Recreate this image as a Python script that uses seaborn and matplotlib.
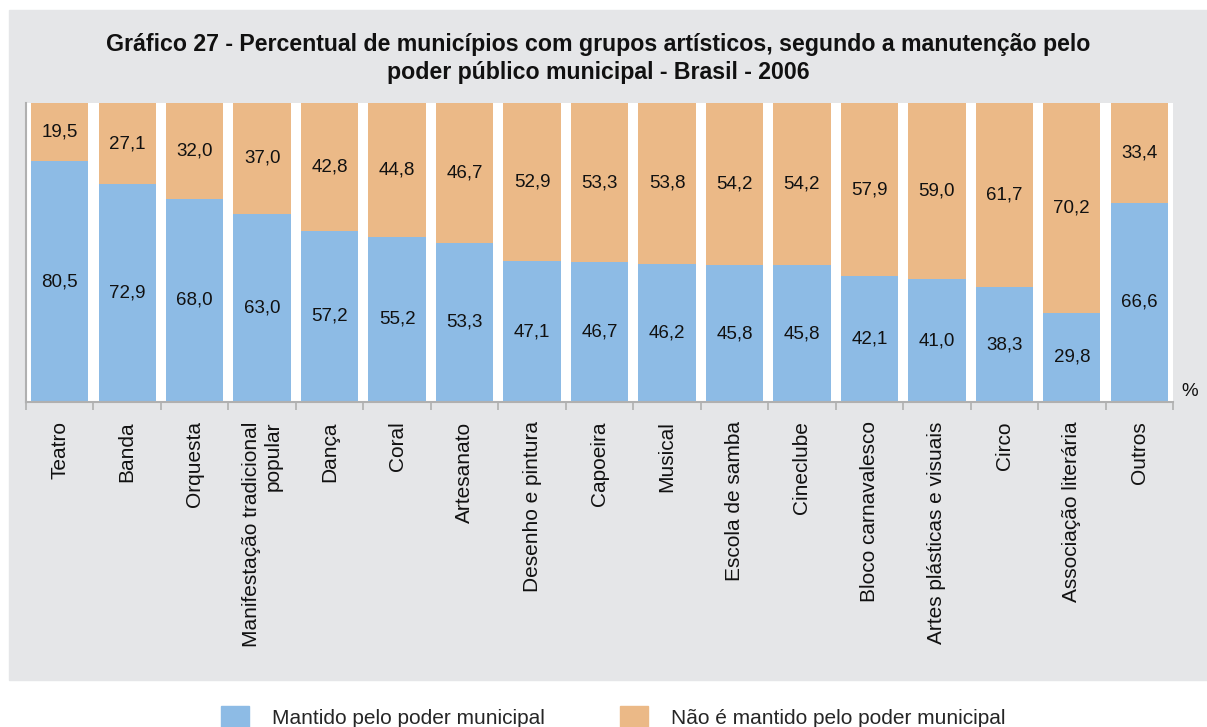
import numpy as np
import pandas as pd
import matplotlib
matplotlib.use("Agg")
import matplotlib.pyplot as plt
from matplotlib.patches import Patch, Rectangle
import seaborn as sns

# data
categorias = ["Teatro", "Banda", "Orquesta", "Manifestação tradicional\npopular",
              "Dança", "Coral", "Artesanato", "Desenho e pintura", "Capoeira",
              "Musical", "Escola de samba", "Cineclube", "Bloco carnavalesco",
              "Artes plásticas e visuais", "Circo", "Associação literária", "Outros"]
mantido = [80.5, 72.9, 68.0, 63.0, 57.2, 55.2, 53.3, 47.1, 46.7,
           46.2, 45.8, 45.8, 42.1, 41.0, 38.3, 29.8, 66.6]
nao_mantido = [19.5, 27.1, 32.0, 37.0, 42.8, 44.8, 46.7, 52.9, 53.3,
               53.8, 54.2, 54.2, 57.9, 59.0, 61.7, 70.2, 33.4]

AZUL = "#8dbbe5"
LARANJA = "#ebb987"
CINZA = "#e5e6e8"

sns.set_theme(style="white")
plt.rcParams['font.family'] = ['Liberation Sans', 'DejaVu Sans']

df = pd.DataFrame({"cat": categorias, "mantido": mantido, "nao": nao_mantido})
df["total"] = df["mantido"] + df["nao"]

fig = plt.figure(figsize=(12.07, 7.27), dpi=100)
fundo = Rectangle((9/1207, 1-680/727), 1.0, (680-10)/727,
                  transform=fig.transFigure, color=CINZA, zorder=-10)
fig.patches.append(fundo)

ax = fig.add_axes([26/1207, 1-402/727, (1173-26)/1207, (402-103)/727])
ax.set_facecolor("white")

# stacked bars: total (laranja) behind, mantido (azul) in front
sns.barplot(data=df, x="cat", y="total", color=LARANJA, width=0.85,
            saturation=1, ax=ax, linewidth=0)
sns.barplot(data=df, x="cat", y="mantido", color=AZUL, width=0.85,
            saturation=1, ax=ax, linewidth=0)

# value labels
for i, (m, n) in enumerate(zip(mantido, nao_mantido)):
    ax.text(i, m / 2, f"{m:.1f}".replace(".", ","), ha="center", va="center",
            fontsize=13.5, color="#111111")
    ax.text(i, m + n / 2, f"{n:.1f}".replace(".", ","), ha="center", va="center",
            fontsize=13.5, color="#111111")

ax.set_xlim(-0.5, len(categorias) - 0.5)
ax.set_ylim(0, 100)
ax.set_yticks([])
ax.set_xlabel("")
ax.set_ylabel("")

ax.set_xticks(np.arange(len(categorias)))
ax.set_xticklabels(categorias, rotation=90, fontsize=15, color="#111111",
                   multialignment="right")
ax.set_xticks(np.arange(len(categorias) + 1) - 0.5, minor=True)
ax.tick_params(axis="x", which="major", length=0, pad=14)
ax.tick_params(axis="x", which="minor", length=6, color="#b0b0b0", width=1.2,
               bottom=True)

for s in ["top", "right"]:
    ax.spines[s].set_visible(False)
for s in ["left", "bottom"]:
    ax.spines[s].set_color("#b0b0b0")
    ax.spines[s].set_linewidth(1.5)

fig.text(1190/1207, 1-392/727, "%", ha="center", va="center", fontsize=13.5,
         color="#111111")

fig.text(0.496, 1-45/727,
         "Gráfico 27 - Percentual de municípios com grupos artísticos, segundo a manutenção pelo",
         ha="center", va="center", fontsize=16.7, fontweight="bold", color="#111111")
fig.text(0.496, 1-72/727, "poder público municipal - Brasil - 2006",
         ha="center", va="center", fontsize=16.7, fontweight="bold", color="#111111")

handles = [Patch(color=AZUL, label="Mantido pelo poder municipal"),
           Patch(color=LARANJA, label="Não é mantido pelo poder municipal")]
fig.legend(handles=handles, loc="center", bbox_to_anchor=(0.508, 0.014), ncol=2,
           frameon=False, fontsize=15, handlelength=1.35, handleheight=1.15,
           handletextpad=1.1, columnspacing=3.6)

fig.savefig("out.png", dpi=100)
